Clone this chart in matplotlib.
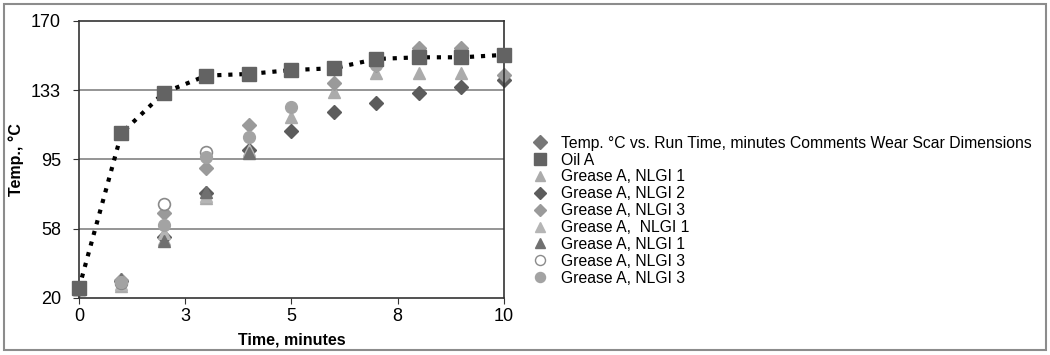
import numpy as np
import matplotlib.pyplot as plt
from matplotlib.patches import Rectangle

plt.rcParams['font.family'] = ['Liberation Sans', 'DejaVu Sans']

# run time, minutes
time = [0, 1, 2, 3, 4, 5, 6, 7, 8, 9, 10]
nan = np.nan

# temperature, deg C
header_series = [nan] * 11
oil_a = [25.3, 109.1, 131.1, 140.3, 141.2, 143.3, 144.3, 149.3, 150.2, 150.2, 151.5]
grease_nlgi1_a = [25, 26.5, 52, 74, 99, 118, 131.6, 141.7, 141.6, 141.6, nan]
grease_nlgi2 = [25, 29, 53.2, 77, 100.1, 110.5, 120.5, 125.3, 130.7, 134.3, 137.9]
grease_nlgi3_d = [25, 29.5, 65.8, 90.2, 113.6, nan, 136.1, 146, 155, 155, 140.6]
grease_nlgi1_b = [25, 27.5, 55, 75, 100, nan, nan, nan, nan, nan, nan]
grease_nlgi1_c = [25, 30.5, 51, 77.5, 98.3, nan, nan, nan, nan, nan, nan]
grease_nlgi3_open = [nan, 28, 70.9, 99.2, nan, nan, nan, nan, nan, nan, nan]
grease_nlgi3_fill = [25, 28.5, 59.5, 96.4, 107.3, 123.5, nan, 146, nan, nan, nan]

labels = ["Temp. °C vs. Run Time, minutes Comments Wear Scar Dimensions",
          "Oil A", "Grease A, NLGI 1", "Grease A, NLGI 2", "Grease A, NLGI 3",
          "Grease A,  NLGI 1", "Grease A, NLGI 1", "Grease A, NLGI 3",
          "Grease A, NLGI 3"]
yticks = [20, 57.5, 95, 132.5, 170]
ytick_labels = ["20", "58", "95", "133", "170"]
xticks = [0, 2.5, 5, 7.5, 10]
xtick_labels = ["0", "3", "5", "8", "10"]

fig = plt.figure(figsize=(10.5, 3.55), dpi=100)
ax = fig.add_axes([0.0752, 0.1606, 0.4048, 0.7811])

for y in yticks[1:-1]:
    ax.axhline(y, color="#8c8c8c", lw=1.3, zorder=0)

h = []
h += ax.plot(time, header_series, "D", color="#777777", ms=8, label=labels[0])
h += ax.plot(time, oil_a, ":", color="black", lw=3, marker="s", ms=9.5,
             mfc="#636363", mec="#636363", zorder=5, label=labels[1])
h += ax.plot(time, grease_nlgi1_a, "^", color="#ababab", ms=8, label=labels[2])
h += ax.plot(time, grease_nlgi2, "D", color="#5c5c5c", ms=7.5, label=labels[3])
h += ax.plot(time, grease_nlgi3_d, "D", color="#9a9a9a", ms=7.5, label=labels[4])
h += ax.plot(time, grease_nlgi1_b, "^", color="#b5b5b5", ms=8, label=labels[5])
h += ax.plot(time, grease_nlgi1_c, "^", color="#707070", ms=8, label=labels[6])
h += ax.plot(time, grease_nlgi3_open, "o", mfc="white", mec="#8a8a8a",
             mew=1.2, ms=8.5, label=labels[7])
h += ax.plot(time, grease_nlgi3_fill, "o", color="#a3a3a3", ms=8.5, label=labels[8])
for l in h:
    l.set_clip_on(False)

ax.set_xlim(0, 10)
ax.set_ylim(20, 170)
ax.set_xticks(xticks, xtick_labels)
ax.set_yticks(yticks, ytick_labels)
ax.tick_params(labelsize=13, length=4, color="#333333")
ax.tick_params(axis="y", pad=9)
for s in ax.spines.values():
    s.set_color("#333333")
    s.set_linewidth(1.2)
ax.set_xlabel("Time, minutes", fontsize=11.5, fontweight="bold", labelpad=5)
ax.set_ylabel("Temp., °C", fontsize=11.5, fontweight="bold", labelpad=5)

# legend handles without the dotted line
leg_handles = [plt.Line2D([], [], ls="none", marker=l.get_marker(),
                          mfc=l.get_markerfacecolor(), mec=l.get_markeredgecolor(),
                          ms=l.get_markersize() * 0.85) for l in h]
fig.legend(leg_handles, labels, loc="upper left", bbox_to_anchor=(0.4995, 0.64),
           frameon=False, fontsize=11.3, handlelength=1.0, handletextpad=0.8,
           labelspacing=0.12, borderpad=0)

fig.add_artist(Rectangle((4 / 1050, 5 / 355), 1042 / 1050, 346 / 355,
                         transform=fig.transFigure, fill=False,
                         ec="#8c8c8c", lw=1.5))

fig.savefig("out.png", dpi=100)
